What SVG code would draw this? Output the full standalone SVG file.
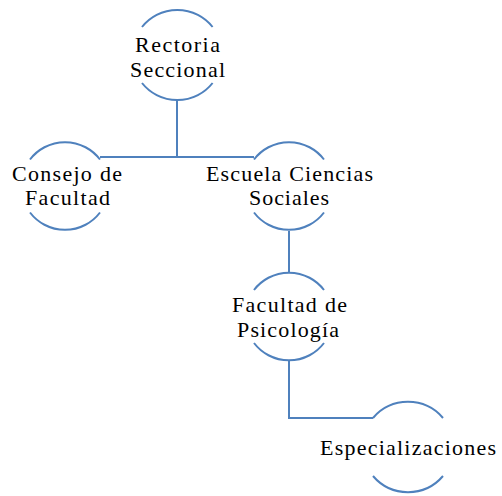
<svg xmlns="http://www.w3.org/2000/svg" width="502" height="496" viewBox="0 0 502 496">
<style>
.arc{fill:none;stroke:#4F81BD;stroke-width:2}
.conn{fill:none;stroke:#4F81BD;stroke-width:2}
text{font-family:"Liberation Serif","Times New Roman",serif;font-size:22px;fill:#000;text-anchor:middle}
</style>
<rect width="502" height="496" fill="#fff"/>
<g id="connectors">
<path class="conn" d="M177,100 V157 M100,157 H254"/>
<path class="conn" d="M289,231 V273"/>
<path class="conn" d="M289,361 V418 H373"/>
</g>
<g id="rectoria">
<path class="arc" d="M142,27 A45,45 0 0 1 212.6,27"/>
<path class="arc" d="M142,83 A45,45 0 0 0 212.6,83"/>
<text x="177.5" y="52" textLength="85">Rectoria</text>
<text x="177.5" y="76.5" textLength="95">Seccional</text>
</g>
<g id="consejo">
<path class="arc" d="M30,159.5 A44,44 0 0 1 100,159.5"/>
<path class="arc" d="M30,212.5 A44,44 0 0 0 100,212.5"/>
<text x="67" y="180.5" textLength="110">Consejo de</text>
<text x="67.5" y="205" textLength="85">Facultad</text>
</g>
<g id="escuela">
<path class="arc" d="M254,159.5 A44,44 0 0 1 324,159.5"/>
<path class="arc" d="M254,212.5 A44,44 0 0 0 324,212.5"/>
<text x="289.5" y="180.5" textLength="167">Escuela Ciencias</text>
<text x="289" y="205" textLength="80">Sociales</text>
</g>
<g id="facultad">
<path class="arc" d="M254,290 A44,44 0 0 1 324,290"/>
<path class="arc" d="M254,343 A44,44 0 0 0 324,343"/>
<text x="289.5" y="312" textLength="115">Facultad de</text>
<text x="288" y="336.5" textLength="102">Psicología</text>
</g>
<g id="especializaciones">
<path class="arc" d="M373,418 A46,46 0 0 1 443,418"/>
<path class="arc" d="M373,476 A46,46 0 0 0 443,476"/>
<text x="408" y="455" textLength="176">Especializaciones</text>
</g>
</svg>
